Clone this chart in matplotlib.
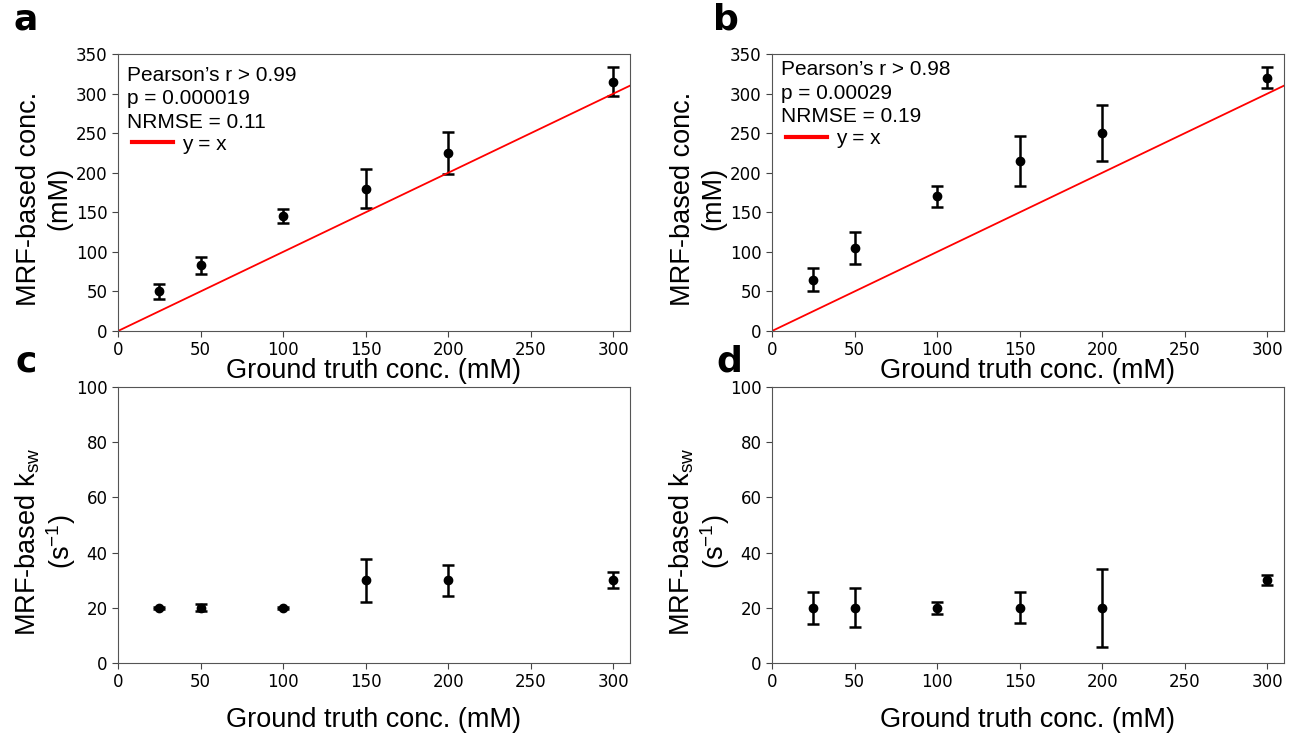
import numpy as np
import matplotlib
matplotlib.use("Agg")
import matplotlib.pyplot as plt
from matplotlib.lines import Line2D

# ===============================================
# FIGURE STYLE
# ===============================================
plt.rcParams["mathtext.fontset"] = "custom"
plt.rcParams["mathtext.rm"] = "Liberation Sans"
plt.rcParams["mathtext.it"] = "Liberation Sans:italic"

# ===============================================
# DATA
# ===============================================
truth = [25, 50, 100, 150, 200, 300]

conc_a = [50, 83, 145, 180, 225, 315]
conc_a_err = [10, 11, 9, 25, 27, 18]
conc_b = [65, 105, 170, 215, 250, 320]
conc_b_err = [15, 20, 13, 32, 35, 13]

ksw_c = [20, 20, 20, 30, 30, 30]
ksw_c_err = [0.4, 1.2, 0.4, 7.8, 5.6, 3.0]
ksw_d = [20, 20, 20, 20, 20, 30]
ksw_d_err = [5.8, 7.0, 2.2, 5.6, 14.2, 1.8]

stats_a = ["Pearson\u2019s r > 0.99", "p = 0.000019", "NRMSE = 0.11"]
stats_b = ["Pearson\u2019s r > 0.98", "p = 0.00029", "NRMSE = 0.19"]

xticks = [0, 50, 100, 150, 200, 250, 300]

label_font = "Liberation Sans"

# ===============================================
# LAYOUT
# ===============================================
fig = plt.figure(figsize=(12.94, 7.33), dpi=100)
W, H = 1294, 733

def make_ax(left, top, right, bottom):
    return fig.add_axes([left / W, 1 - bottom / H, (right - left) / W, (bottom - top) / H])

ax_a = make_ax(118, 54, 630, 331)
ax_b = make_ax(772, 54, 1284, 331)
ax_c = make_ax(118, 387, 630, 663)
ax_d = make_ax(772, 387, 1284, 663)

def style_ax(ax):
    ax.set_xlim(0, 310)
    ax.set_xticks(xticks)
    ax.tick_params(labelsize=12, length=4, color="#444444")
    for s in ax.spines.values():
        s.set_color("#555555")

def draw_conc(ax, y, yerr, lines, text_y):
    ax.errorbar(truth, y, yerr=yerr, fmt="o", color="black", ms=6,
                elinewidth=1.8, capsize=4, capthick=1.8)
    ax.plot([0, 310], [0, 310], color="red", lw=1.3)
    ax.set_ylim(0, 350)
    ax.set_yticks(np.arange(0, 351, 50))
    style_ax(ax)
    ax.set_xlabel("Ground truth conc. (mM)", fontsize=19.5, family=label_font, labelpad=-1)
    ax.set_ylabel("MRF-based conc.\n(mM)", fontsize=19.5, family=label_font)
    ax.yaxis.set_label_coords(-0.09, 0.477)
    ax.text(0.018, text_y, "\n".join(lines), transform=ax.transAxes, va="top", ha="left",
            fontsize=15, family=label_font, linespacing=1.3)
    handle = Line2D([], [], color="red", lw=3)
    ax.legend([handle], ["y = x"], loc="center left", frameon=False,
              bbox_to_anchor=(-0.01, text_y - 0.283), handlelength=2.0, handletextpad=0.4,
              prop={"family": label_font, "size": 15})

def draw_ksw(ax, y, yerr):
    ax.errorbar(truth, y, yerr=yerr, fmt="o", color="black", ms=6,
                elinewidth=1.8, capsize=4, capthick=1.8)
    ax.set_ylim(0, 100)
    ax.set_yticks(np.arange(0, 101, 20))
    style_ax(ax)
    ax.set_xlabel("Ground truth conc. (mM)", fontsize=19.5, family=label_font, labelpad=11)
    ax.set_ylabel("MRF-based k$_{\\mathrm{sw}}$\n(s$^{\\mathrm{-1}}$)", fontsize=19.5,
                  family=label_font, linespacing=1.05)
    ax.yaxis.set_label_coords(-0.079, 0.44)

draw_conc(ax_a, conc_a, conc_a_err, stats_a, 0.958)
draw_conc(ax_b, conc_b, conc_b_err, stats_b, 0.978)
draw_ksw(ax_c, ksw_c, ksw_c_err)
draw_ksw(ax_d, ksw_d, ksw_d_err)

# panel letters
for lab, x, y in [("a", 26, 20), ("b", 726, 20), ("c", 26, 362), ("d", 729, 362)]:
    fig.text(x / W, 1 - y / H, lab, fontsize=26, fontweight="bold",
             family="DejaVu Sans", ha="center", va="center")

fig.savefig("out.png", dpi=100)
